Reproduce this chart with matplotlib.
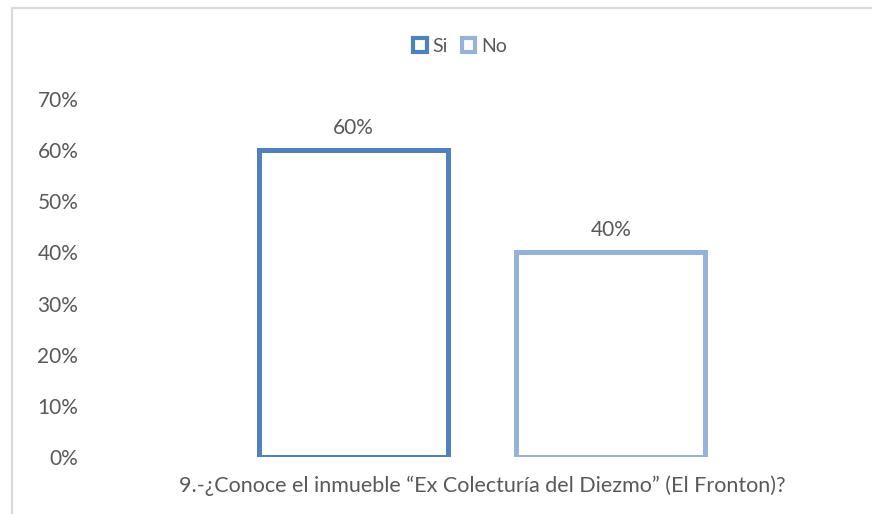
import matplotlib
matplotlib.use("Agg")
import matplotlib.pyplot as plt
from matplotlib.patches import Patch, Rectangle
from matplotlib.ticker import FuncFormatter

series = ["Si", "No"]
values = [0.60, 0.40]
colors = ["#4F81BD", "#95B3D7"]
category = "9.-¿Conoce el inmueble “Ex Colecturía del Diezmo” (El Fronton)?"
yticks = [0, 0.1, 0.2, 0.3, 0.4, 0.5, 0.6, 0.7]

plt.rcParams['font.family'] = ['Lato', 'DejaVu Sans']
gray = "#595959"

W, H = 872, 514
fig = plt.figure(figsize=(W/100, H/100), dpi=100)
fig.patch.set_facecolor("white")

# chart border
fig.add_artist(Rectangle((12/W, -0.1), 1.2, 1 - 8/H + 0.1, transform=fig.transFigure,
                         fill=False, edgecolor="#d9d9d9", linewidth=1.5))

left, right = 95/W, 869/W
bottom, top = 1 - 457/H, 1 - 99/H
ax = fig.add_axes([left, bottom, right - left, top - bottom])

offsets = [-0.333, 0.333]
width = 0.488
for off, v, c in zip(offsets, values, colors):
    ax.bar(off, v, width=width, facecolor="white", edgecolor=c, linewidth=3.6)
    ax.annotate(f"{v*100:.0f}%", (off, v), xytext=(0, 16), textcoords="offset points",
                ha="center", va="center", fontsize=15, color=gray)

ax.set_xlim(-1, 1)
ax.set_ylim(0, 0.7)
ax.set_yticks(yticks)
ax.yaxis.set_major_formatter(FuncFormatter(lambda v, p: f"{v*100:.0f}%"))
ax.tick_params(axis="y", length=0, pad=12, labelsize=15, labelcolor=gray)
ax.set_xticks([0])
ax.set_xticklabels([category])
ax.tick_params(axis="x", length=0, pad=13.5, labelsize=15.5, labelcolor=gray)
for s in ax.spines.values():
    s.set_visible(False)

handles = [Patch(facecolor="white", edgecolor=c, linewidth=3, label=s) for s, c in zip(series, colors)]
fig.legend(handles=handles, loc="center", bbox_to_anchor=(460/W, 1 - 46/H), ncol=2, frameon=False,
           fontsize=14, handlelength=0.7, handleheight=0.7, handletextpad=0.3, columnspacing=0.7,
           labelcolor=gray)

fig.savefig("out.png", dpi=100, facecolor="white")
